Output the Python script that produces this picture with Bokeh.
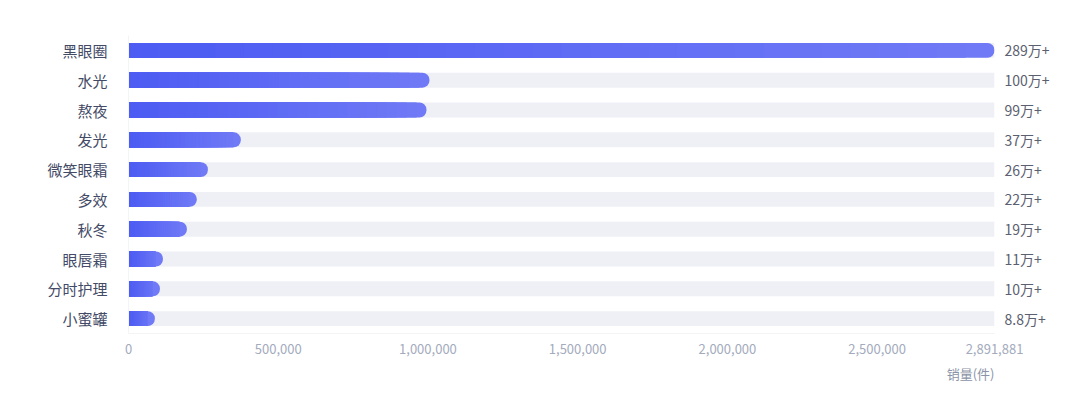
from bokeh.plotting import figure
from bokeh.models import FactorRange, Range1d, CategoricalAxis, FixedTicker, Title
from bokeh.embed import file_html
from bokeh.resources import INLINE

categories = ["黑眼圈", "水光", "熬夜", "发光", "微笑眼霜", "多效", "秋冬", "眼唇霜", "分时护理", "小蜜罐"]
sales = [2891881, 1005000, 995000, 375000, 265000, 228000, 195000, 115000, 105000, 88000]
value_labels = ["289万+", "100万+", "99万+", "37万+", "26万+", "22万+", "19万+", "11万+", "10万+", "8.8万+"]
x_ticks = [0, 500000, 1000000, 1500000, 2000000, 2500000, 2891881]
x_tick_labels = ["0", "500,000", "1,000,000", "1,500,000", "2,000,000", "2,500,000", "2,891,881"]
x_axis_title = "销量(件)"

FONT = "Noto Sans CJK SC"
xmax = max(sales)
FRAME_W = 866

p = figure(width=1072, height=391, output_backend="svg", toolbar_location=None,
           y_range=FactorRange(*reversed(categories)), x_range=Range1d(0, xmax),
           min_border_left=128, min_border_right=78, min_border_top=35, min_border_bottom=58)
p.extra_y_ranges = {"labels": FactorRange(*reversed(value_labels))}
p.outline_line_color = None
p.grid.visible = False
p.background_fill_color = "white"

BAR_H = 0.5
# background tracks
p.hbar(y=categories, left=0, right=[xmax] * len(categories), height=BAR_H,
       fill_color="#eef0f5", line_color=None)

# gradient bars: stacked overlapping slices, longest (lightest, rounded) first
c0 = (77, 92, 242)
c1 = (112, 122, 246)
N = 30
r_data = 7.5 * xmax / FRAME_W
for i in range(N, 0, -1):
    f = i / N
    t = (i - 1) / (N - 1)
    col = "#%02x%02x%02x" % tuple(int(round(a + (b - a) * t)) for a, b in zip(c0, c1))
    if i == N:
        rights = list(sales)
        kw = {"border_radius": (0, 7, 7, 0)}
    else:
        rights = [max(0, min(v * f, v - r_data)) for v in sales]
        kw = {}
    p.hbar(y=categories, left=0, right=rights, height=BAR_H,
           fill_color=col, line_color=None, **kw)

# x axis
xa = p.xaxis[0]
xa.ticker = FixedTicker(ticks=x_ticks)
xa.major_label_overrides = {t: l for t, l in zip(x_ticks, x_tick_labels)}
xa.major_tick_line_color = None
xa.minor_tick_line_color = None
xa.axis_line_color = "#f3f4f6"
xa.major_label_text_color = "#a3abbd"
xa.major_label_text_font = FONT
xa.major_label_text_font_size = "13px"
xa.major_label_standoff = 4

# left category axis
ya = p.yaxis[0]
ya.major_tick_line_color = None
ya.minor_tick_line_color = None
ya.axis_line_color = "#f3f4f6"
ya.major_label_text_color = "#434a66"
ya.major_label_text_font = FONT
ya.major_label_text_font_size = "15px"
ya.major_label_standoff = 15

# right value labels axis
ra = CategoricalAxis(y_range_name="labels")
ra.major_tick_line_color = None
ra.minor_tick_line_color = None
ra.axis_line_color = None
ra.major_label_text_color = "#5b6070"
ra.major_label_text_font = FONT
ra.major_label_text_font_size = "14px"
ra.major_label_standoff = 4
p.add_layout(ra, "right")

t = Title(text=x_axis_title, align="right", text_font=FONT, text_font_size="13px",
          text_font_style="normal", text_color="#8a93a8", standoff=10)
p.add_layout(t, "below")

open("out.html", "w").write(file_html(p, INLINE))
